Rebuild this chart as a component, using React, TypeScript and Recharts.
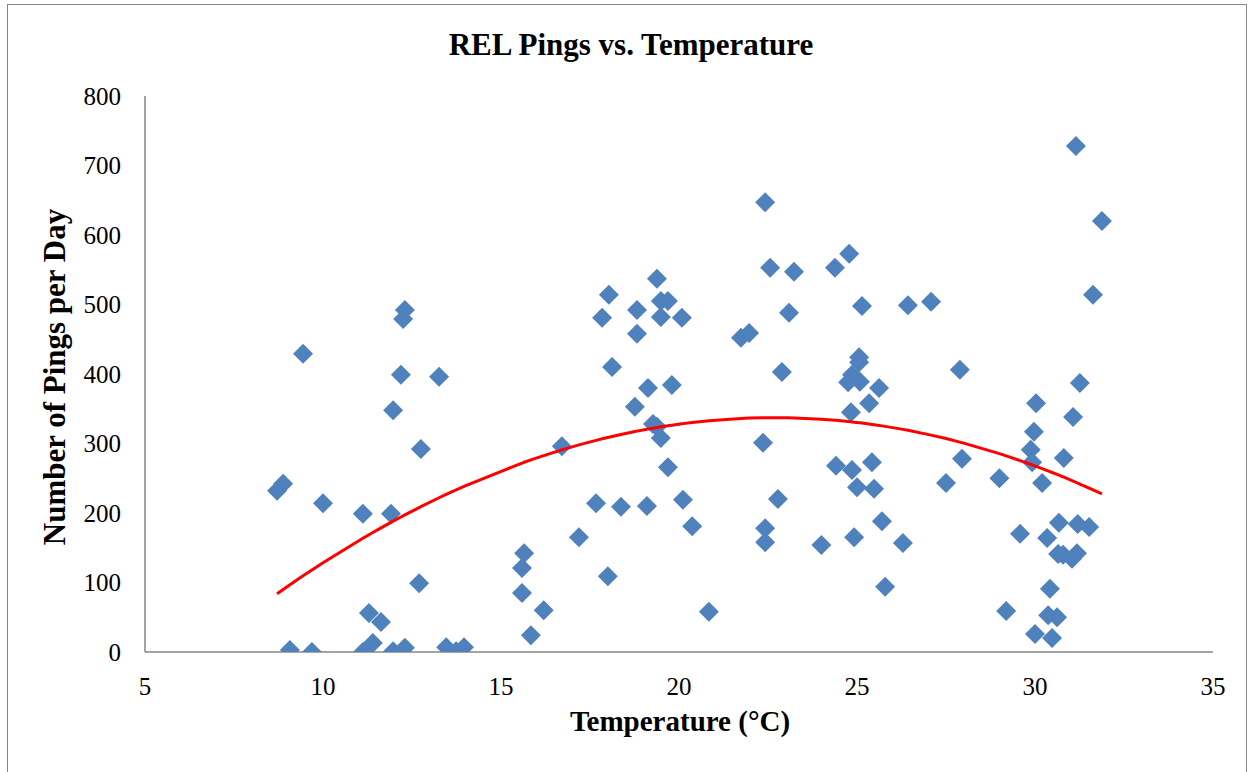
import React from 'react';
import { ScatterChart, Scatter, XAxis, YAxis } from 'recharts';

// Daily REL ping counts against water temperature (°C)
const temperatures = [
  8.71, 8.88, 9.07, 9.44, 9.69, 10.0, 11.12, 11.12, 11.29, 11.4, 11.63, 11.91,
  11.97, 11.97, 12.19, 12.25, 12.3, 12.3, 12.7, 12.75, 13.26, 13.46, 13.74, 13.96,
  15.59, 15.59, 15.65, 15.84, 16.2, 16.71, 17.19, 17.67, 17.84, 18.0, 18.03, 18.12,
  18.37, 18.76, 18.82, 18.82, 19.1, 19.13, 19.27, 19.38, 19.38, 19.49, 19.49, 19.49,
  19.69, 19.69, 19.8, 20.08, 20.11, 20.37, 20.84,
  21.74, 21.97, 22.36, 22.42, 22.42, 22.42, 22.56, 22.78, 22.89, 23.09, 23.23, 24.0,
  24.38, 24.41, 24.75, 24.78, 24.83, 24.86, 24.86, 24.92, 25.0, 25.06, 25.06, 25.08,
  25.14, 25.34, 25.42, 25.48, 25.62, 25.7, 25.79, 26.29, 26.43, 27.08,
  27.5, 27.89, 27.95, 29.0, 29.19, 29.58, 29.88, 29.92, 29.97, 30.0, 30.03, 30.2,
  30.34, 30.37, 30.42, 30.48, 30.62, 30.65, 30.67, 30.79, 30.81, 31.04, 31.07, 31.15,
  31.18, 31.2, 31.26, 31.52, 31.63, 31.88,
];

const pingsPerDay = [
  232, 242, 3, 429, 0, 214, 199, 0, 56, 13, 43, 199,
  348, 1, 399, 479, 492, 6, 99, 292, 396, 7, 1, 7,
  85, 121, 142, 24, 60, 296, 165, 214, 481, 109, 514, 410,
  209, 353, 492, 458, 210, 380, 328, 324, 537, 505, 482, 308,
  505, 266, 384, 481, 219, 181, 58,
  452, 459, 301, 647, 178, 158, 553, 220, 403, 488, 547, 154,
  553, 268, 388, 573, 345, 399, 262, 165, 237, 424, 417, 389,
  498, 358, 273, 235, 380, 188, 94, 157, 499, 504,
  243, 406, 278, 250, 59, 170, 291, 273, 317, 26, 358, 243,
  164, 53, 91, 20, 50, 141, 186, 140, 279, 134, 338, 728,
  142, 184, 387, 180, 514, 620,
];

const xTicks = [5, 10, 15, 20, 25, 30, 35];
const yTicks = [0, 100, 200, 300, 400, 500, 600, 700, 800];

const points = temperatures.map((x, i) => ({ x, y: pingsPerDay[i] }));

// Least-squares second-order polynomial fit (y = c0 + c1 x + c2 x^2)
function quadraticFit(xs: number[], ys: number[]) {
  const s = [0, 0, 0, 0, 0];
  const t = [0, 0, 0];
  xs.forEach((x, i) => {
    let p = 1;
    for (let k = 0; k < 5; k++) {
      s[k] += p;
      if (k < 3) t[k] += p * ys[i];
      p *= x;
    }
  });
  const m = [
    [s[0], s[1], s[2], t[0]],
    [s[1], s[2], s[3], t[1]],
    [s[2], s[3], s[4], t[2]],
  ];
  for (let c = 0; c < 3; c++) {
    for (let r = c + 1; r < 3; r++) {
      const f = m[r][c] / m[c][c];
      for (let k = c; k < 4; k++) m[r][k] -= f * m[c][k];
    }
  }
  const coef = [0, 0, 0];
  for (let r = 2; r >= 0; r--) {
    let v = m[r][3];
    for (let k = r + 1; k < 3; k++) v -= m[r][k] * coef[k];
    coef[r] = v / m[r][r];
  }
  return coef;
}

const [c0, c1, c2] = quadraticFit(temperatures, pingsPerDay);
const trend = Array.from(new Set(temperatures))
  .sort((a, b) => a - b)
  .map((x) => ({ x, y: c0 + c1 * x + c2 * x * x }));

const FONT = "'Liberation Serif', 'Times New Roman', serif";
const AXIS_COLOR = '#868686';

const Diamond = (props: any) => {
  const { cx, cy } = props;
  if (cx == null || cy == null) return <g />;
  const r = 10;
  return (
    <polygon
      points={`${cx},${cy - r} ${cx + r},${cy} ${cx},${cy + r} ${cx - r},${cy}`}
      fill="#4F81BD"
    />
  );
};

const Nothing = () => <g />;

export default function App() {
  const W = 1253;
  const H = 772;
  return (
    <div style={{ position: 'absolute', left: 0, top: 0, width: W, height: H, background: '#fff' }}>
      <ScatterChart
        width={W}
        height={H}
        margin={{ top: 96, right: 40, bottom: 0, left: 0 }}
      >
        <XAxis
          type="number"
          dataKey="x"
          domain={[5, 35]}
          ticks={xTicks}
          allowDataOverflow
          height={120}
          tickLine={false}
          tickSize={0}
          tickMargin={25}
          axisLine={{ stroke: AXIS_COLOR, strokeWidth: 1.5 }}
          tick={{ fill: '#000', fontSize: 25, fontFamily: FONT }}
        />
        <YAxis
          type="number"
          dataKey="y"
          domain={[0, 800]}
          ticks={yTicks}
          allowDataOverflow
          width={145}
          tickLine={false}
          tickSize={0}
          tickMargin={24}
          axisLine={{ stroke: AXIS_COLOR, strokeWidth: 1.5 }}
          tick={{ fill: '#000', fontSize: 25, fontFamily: FONT }}
        />
        <Scatter data={points} shape={<Diamond />} isAnimationActive={false} />
        <Scatter
          data={trend}
          shape={<Nothing />}
          line={{ stroke: '#FF0000', strokeWidth: 3 }}
          lineType="joint"
          isAnimationActive={false}
        />
      </ScatterChart>
      <svg
        width={W}
        height={H}
        style={{ position: 'absolute', left: 0, top: 0, pointerEvents: 'none' }}
      >
        <rect x={7.5} y={4.5} width={1239} height={780} fill="none" stroke={AXIS_COLOR} strokeWidth={1} />
        <text x={631} y={55} textAnchor="middle" fontFamily={FONT} fontWeight="bold" fontSize={31} fill="#000">
          REL Pings vs. Temperature
        </text>
        <text x={680} y={731} textAnchor="middle" fontFamily={FONT} fontWeight="bold" fontSize={29} fill="#000">
          Temperature (°C)
        </text>
        <text
          transform="translate(65,377) rotate(-90)"
          textAnchor="middle"
          fontFamily={FONT}
          fontWeight="bold"
          fontSize={31}
          fill="#000"
        >
          Number of Pings per Day
        </text>
      </svg>
    </div>
  );
}
